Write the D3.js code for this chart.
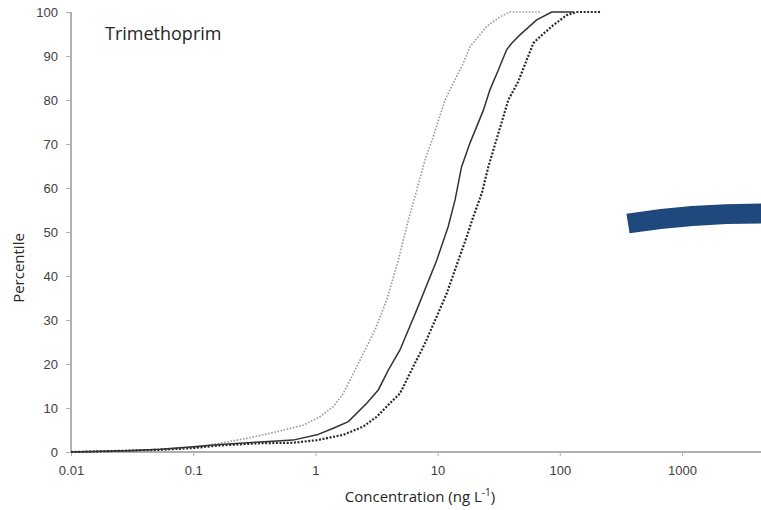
<!DOCTYPE html>
<html>
<head>
<meta charset="utf-8">
<script src="https://cdn.jsdelivr.net/npm/d3@7"></script>
<style>
  body { margin: 0; background: #fff; }
  svg { display: block; font-family: "Open Sans", sans-serif; }
  .tick text { fill: #404040; font-size: 13px; }
</style>
</head>
<body>
<svg width="761" height="510"></svg>
<script>
//
// Data: concentration (ng/L) vs percentile
//
var lowConc  = [0.01, 0.0287, 0.0535, 0.1, 0.166, 0.274, 0.482, 0.796, 1.09, 1.40, 1.69, 2.11, 2.55, 3.07, 3.83, 4.77, 5.76, 6.75, 7.89, 9.22, 11.5, 13.4, 16.2, 18.4, 25.2, 32.4, 39.1, 71.1];
var lowPct   = [0, 0.3, 0.6, 1.0, 2.0, 3.1, 4.6, 6.1, 8.0, 10.3, 13.3, 18.6, 23.2, 27.7, 34.5, 43.6, 52.7, 59.5, 66.4, 71.7, 80, 83.8, 88.3, 92.1, 96.7, 98.9, 100, 100];

var medConc  = [0.01, 0.0287, 0.0535, 0.1, 0.166, 0.352, 0.656, 1.03, 1.40, 1.86, 2.63, 3.27, 3.95, 4.92, 6.75, 9.84, 12.2, 13.9, 15.7, 18.4, 23.7, 26.8, 31.4, 36.7, 40.4, 47.2, 64.7, 85.9, 130];
var medPct   = [0, 0.3, 0.6, 1.2, 1.7, 2.3, 2.7, 3.9, 5.4, 6.9, 11.1, 14.1, 18.6, 23.2, 32.3, 43.6, 51.2, 57.3, 64.8, 70.2, 77.7, 82.3, 86.8, 91.4, 92.9, 94.8, 98.2, 100, 100];

var highConc = [0.01, 0.0287, 0.0535, 0.1, 0.166, 0.352, 0.659, 1.03, 1.69, 2.47, 3.17, 4.08, 4.92, 6.32, 7.89, 9.84, 11.9, 14.8, 17.3, 19.6, 23.0, 26.0, 31.4, 37.9, 45.7, 53.6, 60.7, 68.9, 88.5, 114, 137, 220];
var highPct  = [0, 0.3, 0.5, 0.9, 1.5, 2.0, 2.1, 2.7, 3.9, 5.8, 8.0, 11.1, 13.3, 19.4, 24.7, 30.8, 36.1, 43.6, 48.9, 53.5, 58.8, 64.8, 72.4, 80, 84.2, 89.1, 92.9, 94.4, 97, 99.3, 100, 100];

var xTicks = [0.01, 0.1, 1, 10, 100, 1000];
var yTicks = [0, 10, 20, 30, 40, 50, 60, 70, 80, 90, 100];

var svg = d3.select("svg");

// one decade = 122.2px, axis runs off the right edge
var x = d3.scaleLog().domain([0.01, 10000]).range([71, 71 + 6 * 122.2]);
var y = d3.scaleLinear().domain([0, 100]).range([452, 12]);

// axes
var xAxis = svg.append("g")
    .attr("transform", "translate(0,452)")
    .call(d3.axisBottom(x).tickValues(xTicks).tickFormat(d3.format("~g")).tickSize(4).tickPadding(10));

var yAxis = svg.append("g")
    .attr("transform", "translate(71,0)")
    .call(d3.axisLeft(y).tickValues(yTicks).tickSize(5).tickPadding(8));

svg.selectAll(".domain").attr("stroke", "#b0b0b0").attr("stroke-width", 2);
svg.selectAll(".tick line").attr("stroke", "#b0b0b0");
xAxis.select(".domain").attr("d", "M71,0H761");
yAxis.select(".domain").attr("d", "M0,12V452");

// curves
var line = d3.line()
    .x(function(d) { return x(d[0]); })
    .y(function(d) { return y(d[1]); });

function pairs(c, p) {
  return c.map(function(v, i) { return [v, p[i]]; });
}

svg.append("path")
    .datum(pairs(lowConc, lowPct))
    .attr("d", line)
    .attr("fill", "none")
    .attr("stroke", "#9a9a9a")
    .attr("stroke-width", 1.6)
    .attr("stroke-dasharray", "1.6,1.6");

svg.append("path")
    .datum(pairs(highConc, highPct))
    .attr("d", line)
    .attr("fill", "none")
    .attr("stroke", "#2a2a2a")
    .attr("stroke-width", 2.2)
    .attr("stroke-dasharray", "2,1.6");

svg.append("path")
    .datum(pairs(medConc, medPct))
    .attr("d", line)
    .attr("fill", "none")
    .attr("stroke", "#333")
    .attr("stroke-width", 1.5);

// texts
svg.append("text")
    .attr("x", 105).attr("y", 40)
    .attr("font-size", 18).attr("fill", "#262626")
    .text("Trimethoprim");

svg.append("text")
    .attr("transform", "translate(24,268) rotate(-90)")
    .attr("text-anchor", "middle")
    .attr("font-size", 15).attr("fill", "#262626")
    .text("Percentile");

var xl = svg.append("text")
    .attr("x", 420).attr("y", 502)
    .attr("text-anchor", "middle")
    .attr("font-size", 15).attr("fill", "#262626");
xl.append("tspan").text("Concentration (ng L");
xl.append("tspan").attr("font-size", 10).attr("dy", -6).text("-1");
xl.append("tspan").attr("dy", 6).text(")");

// blue curved band on the right
svg.append("path")
    .attr("d", "M628,223.5 Q690,213.5 761,213.5")
    .attr("fill", "none")
    .attr("stroke", "#1f497d")
    .attr("stroke-width", 20);
</script>
</body>
</html>
